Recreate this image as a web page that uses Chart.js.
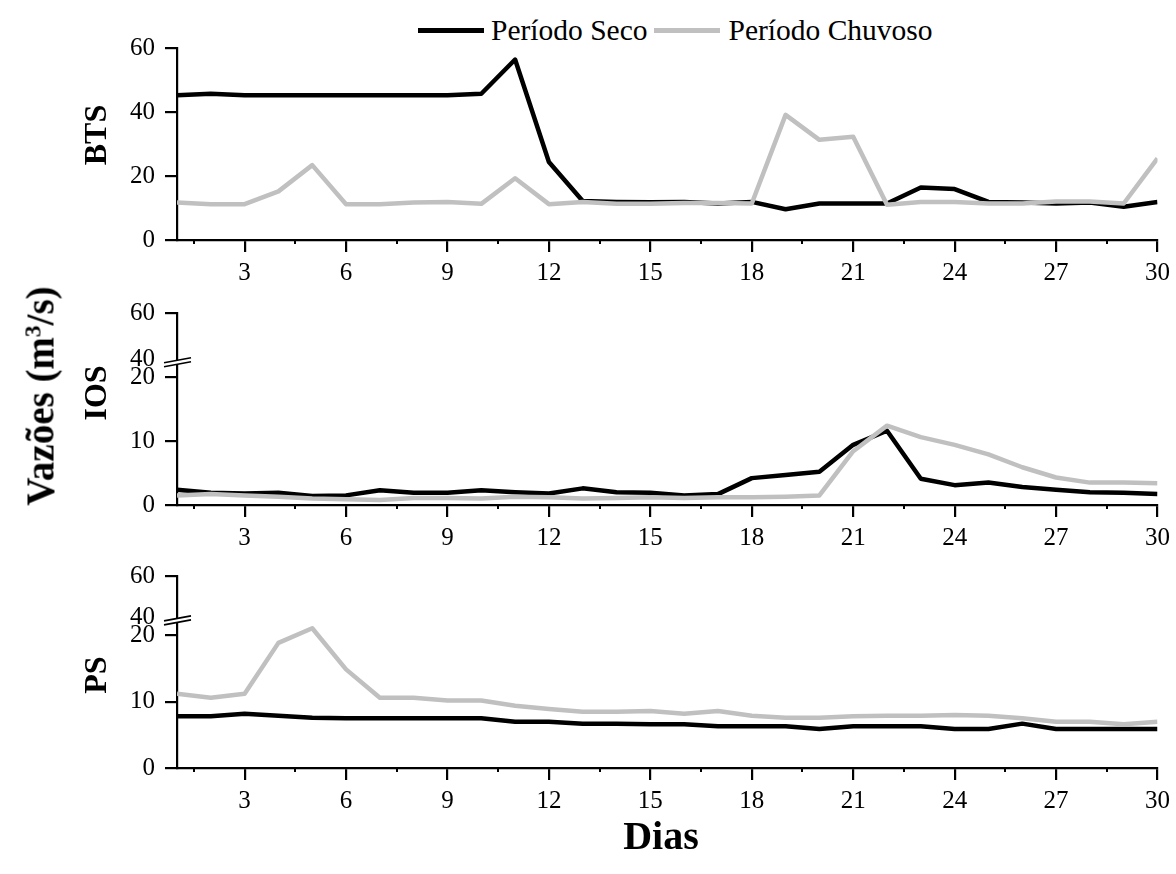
<!DOCTYPE html>
<html>
<head>
<meta charset="utf-8">
<script src="https://cdn.jsdelivr.net/npm/chart.js@4.4.1/dist/chart.umd.min.js"></script>
<style>
  html, body { margin: 0; padding: 0; background: #fff; width: 1176px; height: 874px; overflow: hidden;
    font-family: "Liberation Serif", "Times New Roman", serif; color: #000; }
  canvas.panel { position: absolute; left: 0; }
  .lbl { position: absolute; font-weight: bold; white-space: nowrap; line-height: 1; }
  .rot { transform: translate(-50%, -50%) rotate(-90deg); }
  .ctr { transform: translate(-50%, -50%); }
  .legend { position: absolute; left: 418px; top: 14px; display: flex; align-items: center; font-size: 29.5px; white-space: nowrap; }
  .legend .sw { display: inline-block; height: 4.5px; width: 66px; }
  .legend .tx { margin-left: 7px; margin-right: 6px; }
  sup { font-size: 60%; vertical-align: 0.55em; line-height: 0; }
</style>
</head>
<body>
<div class="legend">
  <span class="sw" style="background:#000"></span><span class="tx">Período Seco</span>
  <span class="sw" style="background:#c0c0c0"></span><span class="tx" style="margin-left:9px">Período Chuvoso</span>
</div>

<canvas id="cBTS" class="panel" width="1176" height="267" style="top:23px"></canvas>
<canvas id="cIOS" class="panel" width="1176" height="267" style="top:288px"></canvas>
<canvas id="cPS"  class="panel" width="1176" height="267" style="top:551px"></canvas>

<div class="lbl rot" style="left:40px; top:396px; font-size:39px;">Vazões (m<sup>3</sup>/s)</div>
<div class="lbl rot" style="left:95px; top:135px; font-size:32px;">BTS</div>
<div class="lbl rot" style="left:95px; top:393px; font-size:32px;">IOS</div>
<div class="lbl rot" style="left:95px; top:675px; font-size:32px;">PS</div>
<div class="lbl ctr" style="left:661px; top:836px; font-size:40px;">Dias</div>

<script>
// Daily discharge (m³/s) at three stations, dry vs rainy period
const days = [1,2,3,4,5,6,7,8,9,10,11,12,13,14,15,16,17,18,19,20,21,22,23,24,25,26,27,28,29,30];

const btsSeco    = [45.2,45.7,45.2,45.2,45.2,45.2,45.2,45.2,45.2,45.7,56.4,24.4,12.2,11.9,11.8,11.9,11.4,11.9,9.6,11.4,11.4,11.4,16.4,15.9,11.9,11.7,11.4,11.7,10.4,11.9];
const btsChuvoso = [11.7,11.2,11.2,15.2,23.4,11.2,11.2,11.7,11.9,11.3,19.3,11.2,11.9,11.3,11.3,11.6,11.6,11.4,39.1,31.3,32.3,11.0,11.9,11.9,11.4,11.4,12.0,12.0,11.4,25.5];

const iosSeco    = [2.4,1.9,1.8,1.9,1.4,1.5,2.3,1.9,1.9,2.3,2.0,1.8,2.6,2.0,1.9,1.5,1.7,4.2,4.7,5.2,9.4,11.6,4.1,3.1,3.5,2.8,2.4,2.0,1.9,1.7];
const iosChuvoso = [1.5,1.7,1.5,1.3,1.0,0.9,0.8,1.1,1.1,1.0,1.3,1.2,1.0,1.1,1.2,1.1,1.2,1.2,1.3,1.5,8.4,12.4,10.6,9.4,7.9,5.9,4.3,3.5,3.5,3.4];

const psSeco     = [7.8,7.8,8.2,7.9,7.6,7.5,7.5,7.5,7.5,7.5,7.0,7.0,6.7,6.7,6.6,6.6,6.3,6.3,6.3,5.9,6.3,6.3,6.3,5.9,5.9,6.7,5.9,5.9,5.9,5.9];
const psChuvoso  = [11.2,10.6,11.2,18.9,21.1,14.9,10.6,10.6,10.2,10.2,9.4,8.9,8.5,8.5,8.6,8.2,8.6,7.9,7.6,7.6,7.8,7.9,7.9,8.0,7.9,7.5,7.0,7.0,6.6,7.0];

// x axis: labelled ticks every 3 days, small ticks in between
const dayTicks      = [3,6,9,12,15,18,21,24,27,30];
const dayMinorTicks = [1.5,4.5,7.5,10.5,13.5,16.5,19.5,22.5,25.5,28.5];

// y axes: BTS is continuous; IOS and PS use a broken axis (0–20, then 40–60 compressed on top)
const btsTicks       = [0, 20, 40, 60];
const btsTickLabels  = ['0', '20', '40', '60'];
const iosTicks       = [0, 10, 20, 22.7, 30];
const iosTickLabels  = ['0', '10', '20', '40', '60'];
const psTicks        = [0, 10, 20, 22.7, 29];
const psTickLabels   = ['0', '10', '20', '40', '60'];

const FONT = '"Liberation Serif", "Times New Roman", serif';
const DARK = '#000000';
const LIGHT = '#c0c0c0';

// minor x ticks and the axis-break symbol
const axisDecor = {
  id: 'axisDecor',
  afterDraw(chart, args, opts) {
    const { ctx, chartArea, scales: { x, y } } = chart;
    ctx.save();
    ctx.strokeStyle = '#000';
    ctx.lineWidth = 2;
    dayMinorTicks.forEach(v => {
      const px = Math.round(x.getPixelForValue(v));
      ctx.beginPath();
      ctx.moveTo(px, chartArea.bottom);
      ctx.lineTo(px, chartArea.bottom + 4);
      ctx.stroke();
    });
    if (opts && opts.breakAt != null) {
      const py = y.getPixelForValue(opts.breakAt);
      const x0 = chartArea.left - 13, x1 = chartArea.left + 14;
      const rise = 5, gap = 4;
      ctx.fillStyle = '#fff';
      ctx.beginPath();
      ctx.moveTo(x0, py + rise / 2 + gap / 2);
      ctx.lineTo(x1, py - rise / 2 + gap / 2);
      ctx.lineTo(x1, py - rise / 2 - gap / 2);
      ctx.lineTo(x0, py + rise / 2 - gap / 2);
      ctx.closePath();
      ctx.fill();
      ctx.lineWidth = 1.6;
      [gap / 2, -gap / 2].forEach(o => {
        ctx.beginPath();
        ctx.moveTo(x0, py + rise / 2 + o);
        ctx.lineTo(x1, py - rise / 2 + o);
        ctx.stroke();
      });
    }
    ctx.restore();
  }
};

function series(vals) {
  return days.map((d, i) => ({ x: d, y: vals[i] }));
}

function makePanel(id, seco, chuvoso, yTicks, yLabels, yMax, breakAt, hiddenTick) {
  return new Chart(document.getElementById(id), {
    type: 'line',
    data: {
      datasets: [
        { label: 'Período Seco', data: series(seco), borderColor: DARK, order: 1 },
        { label: 'Período Chuvoso', data: series(chuvoso), borderColor: LIGHT, order: 0 }
      ]
    },
    plugins: [axisDecor],
    options: {
      responsive: false,
      animation: false,
      events: [],
      layout: { padding: { top: 20, right: 16, left: 0, bottom: 0 } },
      elements: {
        point: { radius: 0 },
        line: { tension: 0, borderWidth: 4.5, fill: false, borderJoinStyle: 'round', borderCapStyle: 'butt' }
      },
      plugins: {
        legend: { display: false },
        tooltip: { enabled: false },
        axisDecor: { breakAt: breakAt }
      },
      scales: {
        x: {
          type: 'linear', min: 1, max: 30,
          afterBuildTicks: s => { s.ticks = dayTicks.map(v => ({ value: v })); },
          afterFit: s => { s.height = 50; },
          ticks: { autoSkip: false, maxRotation: 0, color: '#000', padding: 6,
                   font: { family: FONT, size: 25 }, callback: v => String(v) },
          grid: { drawOnChartArea: false, drawTicks: true, tickLength: 12, color: '#000', lineWidth: 2.2 },
          border: { display: true, color: '#000', width: 2.2 }
        },
        y: {
          type: 'linear', min: 0, max: yMax,
          afterBuildTicks: s => { s.ticks = yTicks.map(v => ({ value: v })); },
          afterFit: s => { s.width = 177; },
          ticks: { autoSkip: false, color: '#000', padding: 10,
                   font: { family: FONT, size: 25 },
                   callback: (v, i) => yLabels[i] },
          grid: { drawOnChartArea: false, drawTicks: true, tickLength: 12, lineWidth: 2.2,
                  color: '#000',
                  tickColor: c => (c.tick && c.tick.value === hiddenTick) ? 'rgba(0,0,0,0)' : '#000' },
          border: { display: true, color: '#000', width: 2.2 }
        }
      }
    }
  });
}

makePanel('cBTS', btsSeco, btsChuvoso, btsTicks, btsTickLabels, 60, null, null);
makePanel('cIOS', iosSeco, iosChuvoso, iosTicks, iosTickLabels, 30, 22.3, 22.7);
makePanel('cPS',  psSeco,  psChuvoso,  psTicks,  psTickLabels,  29, 22.3, 22.7);
</script>
</body>
</html>
